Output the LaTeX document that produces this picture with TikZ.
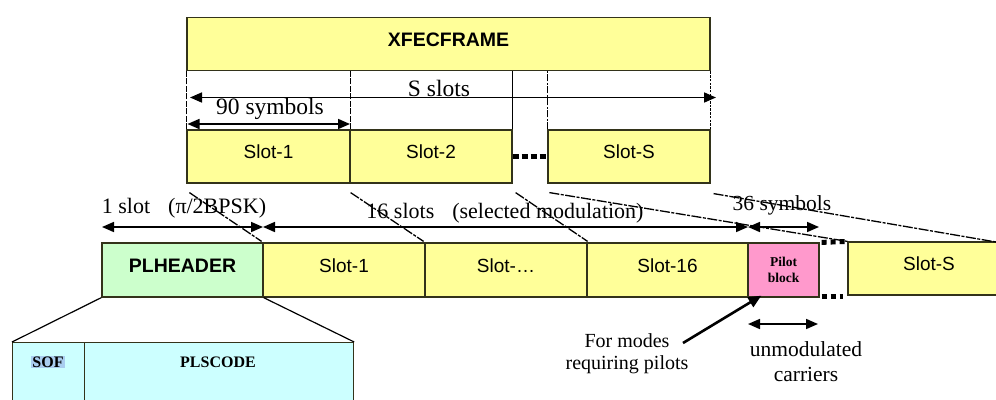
\documentclass[tikz,border=0pt]{standalone}
\usepackage{fontspec}
\setmainfont{Liberation Serif}
\setsansfont{Liberation Sans}
\usetikzlibrary{arrows.meta,calc}
\definecolor{slotyellow}{HTML}{FFFF99}
\definecolor{hdrgreen}{HTML}{CCFFCC}
\definecolor{pilotpink}{HTML}{FF99CC}
\definecolor{codecyan}{HTML}{CCFFFF}
\definecolor{boxline}{HTML}{33331A}
\definecolor{selblue}{HTML}{A9CDEF}
\tikzset{
  basebox/.style={draw=boxline, line width=1.2pt, inner sep=0pt, text depth=9pt,
    font=\sffamily\fontsize{19}{21}\selectfont},
  slotbox/.style={basebox, fill=slotyellow},
  hdrbox/.style={basebox, fill=hdrgreen, font=\sffamily\bfseries\fontsize{19.5}{21}\selectfont},
  pilotbox/.style={draw=boxline, line width=1.2pt, fill=pilotpink, inner sep=0pt, align=center,
    font=\bfseries\fontsize{13.5}{15.5}\selectfont},
  codebox/.style={draw=boxline, line width=1.2pt, fill=codecyan, inner sep=0pt, anchor=north west},
  codetext/.style={inner sep=1pt, font=\bfseries\fontsize{16}{18}\selectfont},
  biglabel/.style={inner sep=0pt, font=\fontsize{23.5}{26}\selectfont},
  midlabel/.style={inner sep=0pt, font=\fontsize{22}{25}\selectfont, align=center},
  dimarrow/.style={line width=1.7pt, {Triangle[length=12pt,width=10pt]}-{Triangle[length=12pt,width=10pt]}},
  guide/.style={line width=1.5pt, dash pattern=on 6pt off 1.5pt},
  mapline/.style={line width=1.3pt, dash pattern=on 10pt off 1.5pt on 3pt off 1.5pt},
  gapdots/.style={line width=5pt, dash pattern=on 6pt off 3pt},
}
\begin{document}
\begin{tikzpicture}[x=1pt,y=-1pt]
\clip (0,0) rectangle (996,399);
\fill[white] (0,0) rectangle (996,399);

% top frame
\node[slotbox, minimum width=523pt, minimum height=53pt, font=\sffamily\bfseries\fontsize{19.5}{21}\selectfont] (xfec) at (448.5,44) {XFECFRAME};
\node[slotbox, minimum width=163pt, minimum height=53pt] (tslot1) at (268.5,156.5) {Slot-1};
\node[slotbox, minimum width=162pt, minimum height=53pt] (tslot2) at (431,156.5) {Slot-2};
\node[slotbox, minimum width=162pt, minimum height=53pt] (tslotS) at (629,156.5) {Slot-S};

% guides between frame and slots
\draw[guide] (tslot1.north west) -- (xfec.south west);
\draw[guide] (tslot1.north east) -- (tslot1.north east |- xfec.south);
\draw[line width=1.5pt] (tslot2.north east) -- (tslot2.north east |- xfec.south);
\draw[line width=1.5pt, dash pattern=on 7pt off 1.5pt on 2pt off 1.5pt] (tslotS.north west) -- (tslotS.north west |- xfec.south);
\draw[line width=1.5pt, dash pattern=on 2.5pt off 1.2pt] (tslotS.north east) -- (xfec.south east);

% top dimension arrows
\coordinate (ssL) at (190,97.5);
\coordinate (ssR) at (716,97.5);
\draw[dimarrow] (ssL) -- (ssR);
\node[biglabel] (sslab) at (439,88) {S slots};
\coordinate (nsL) at (187.5,124);
\coordinate (nsR) at (350,124);
\draw[dimarrow] (nsL) -- (nsR);
\node[biglabel] (nslab) at (270,109) {90 symbols};

% gap dots top
\draw[gapdots] (tslot2.east) -- (tslotS.west);

% lower frame
\node[hdrbox, minimum width=161pt, minimum height=54pt] (plh) at (182.5,270) {PLHEADER};
\node[slotbox, minimum width=162pt, minimum height=54pt] (bslot1) at (344,270) {Slot-1};
\node[slotbox, minimum width=162pt, minimum height=54pt] (bslotd) at (506,270) {Slot-…};
\node[slotbox, minimum width=161pt, minimum height=54pt] (bslot16) at (667.5,270) {Slot-16};
\node[pilotbox, minimum width=71pt, minimum height=54pt] (pilot) at (783.5,270) {Pilot\\block};
\node[slotbox, minimum width=162pt, minimum height=53pt] (bslotS) at (929,268.5) {Slot-S};

% gap dots lower
\draw[gapdots, dash pattern=on 5pt off 4pt] ($(pilot.north east)+(2,0)$) -- (bslotS.north west);
\draw[gapdots, dash pattern=on 5pt off 4pt] ($(pilot.south east)+(2,-1.5)$) -- ($(bslotS.south west)+(-4,0.5)$);

% lower dimension arrows
\coordinate (a1L) at (102,227);
\coordinate (a1R) at (263,227);
\coordinate (a2R) at (748,227);
\coordinate (a3R) at (819,227);
\draw[dimarrow] (a1L) -- (a1R);
\draw[dimarrow] (a1R) -- (a2R);
\draw[dimarrow] (a2R) -- (a3R);
\node[midlabel] (lab1) at (184,208) {1 slot\hspace{18pt}(π/2BPSK)};
\node[midlabel] (lab16) at (505,213) {16 slots\hspace{18pt}(selected modulation)};
\node[midlabel, font=\fontsize{21.5}{24}\selectfont] (lab36) at (782,205) {36 symbols};

% mapping lines from top slots to lower row
\draw[mapline] ($(tslot1.south west)+(3,9)$) -- ($(plh.north east)+(-2,-1)$);
\draw[mapline] ($(tslot1.south east)+(0,9)$) -- ($(bslot1.north east)+(-2,-1)$);
\draw[mapline] ($(tslot2.south east)+(3,9)$) -- ($(bslotd.north east)+(0,-1)$);
\draw[mapline] ($(tslotS.south west)+(2,9)$) -- (bslotS.north west);
\draw[mapline] ($(tslotS.south east)+(3,10)$) -- (996,242);

% PLHEADER expansion
\node[codebox, minimum width=72pt, minimum height=80pt] (sof) at (12,342) {};
\node[codebox, minimum width=269pt, minimum height=80pt] (plscode) at (84,342) {};
\node[codetext, fill=selblue] (soft) at (48,362) {SOF};
\node[codetext] (plscodet) at (218,362) {PLSCODE};
\draw[line width=1.2pt] (plh.south west) -- (sof.north west);
\draw[line width=1.2pt] (plh.south east) -- (plscode.north east);

% pilot annotation
\node[midlabel, font=\fontsize{20}{22}\selectfont] (modes) at (627,354) {For modes\\requiring pilots};
\coordinate (modesend) at (683,343);
\draw[line width=2.6pt, -{Triangle[length=13pt,width=11pt]}] (modesend) -- ($(pilot.south west)+(14,-2)$);
\coordinate (umL) at (748,324);
\coordinate (umR) at (818,324);
\draw[dimarrow] (umL) -- (umR);
\node[midlabel, font=\fontsize{21.5}{25}\selectfont] (unmod) at (806,362) {unmodulated\\carriers};
\end{tikzpicture}
\end{document}
